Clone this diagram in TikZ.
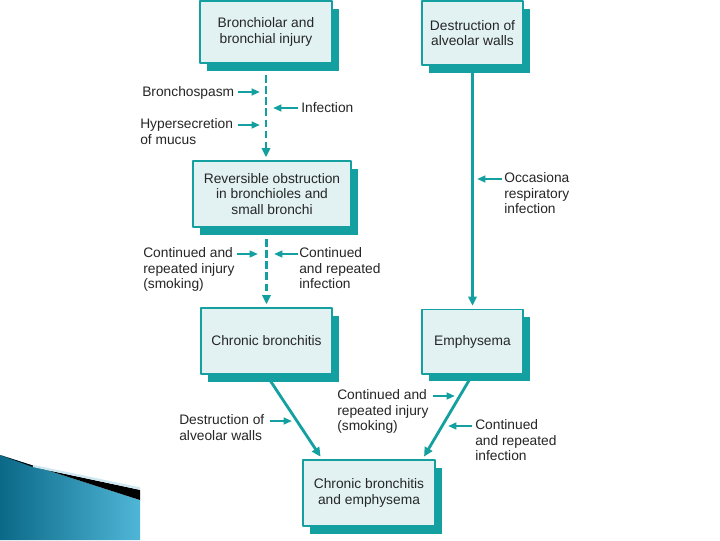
\documentclass[tikz,border=0pt]{standalone}
\usepackage{fontspec}
\setmainfont{Liberation Sans}
\usepackage{tikz}
\usetikzlibrary{arrows.meta,shadows,calc}

\definecolor{copdteal}{RGB}{20,160,160}
\definecolor{copdfill}{RGB}{226,242,242}
\definecolor{slidedark}{RGB}{10,105,135}
\definecolor{slidelight}{RGB}{80,182,215}
\definecolor{slidepale}{RGB}{205,232,240}
\newcommand{\copdfont}{\fontsize{9.8}{11}\selectfont}

\tikzset{
  stage/.style={draw=copdteal,line width=1.4pt,fill=copdfill,align=center,
    inner sep=0pt,font=\copdfont,text=black!85,
    general shadow={fill=copdteal,shadow xshift=5pt,shadow yshift=-5.5pt}},
  note/.style={anchor=north west,inner sep=0pt,align=left,font=\copdfont,
    text=black!85,execute at begin node=\strut},
  flow/.style={draw=copdteal,line width=2pt,-{Triangle[length=6.5pt,width=6pt]},shorten >=2pt},
  feed/.style={draw=copdteal,line width=1.5pt,-{Triangle[length=6pt,width=4.8pt]}}
}

\begin{document}
\begin{tikzpicture}[x=0.025cm,y=-0.025cm,join=round]% COPD flow, 6 stages
        \useasboundingbox (0,0) rectangle (720,540);
        \fill[white] (0,0) rectangle (720,540);
        % slide corner
        \shade[left color=slidedark,right color=slidelight](0,455)--(140,500)--(140,540)--(0,540)--cycle;
        \fill[black](33,467)--(140,490)--(140,500)--(0,455)--cycle;
        \draw[slidepale,line width=1.6pt](33,466)--(140,488.5);
        % stages
        \node[stage,minimum width=3.3cm,minimum height=1.55cm] (injury) at (266,32) {Bronchiolar and\\bronchial injury};
        \node[stage,minimum width=2.525cm,minimum height=1.6cm] (destr) at (472.5,33) {Destruction of\\alveolar walls};
        \node[stage,minimum width=3.95cm,minimum height=1.65cm] (revers) at (272,194) {Reversible obstruction\\in bronchioles and\\small bronchi};
        \node[stage,minimum width=3.275cm,minimum height=1.65cm] (chronic) at (266.5,341) {Chronic bronchitis};
        \node[stage,minimum width=2.525cm,minimum height=1.6cm] (emph) at (472.5,341.5) {Emphysema};
        \node[stage,minimum width=3.3cm,minimum height=1.65cm] (both) at (369,493) {Chronic bronchitis\\and emphysema};
        % main connectors
        \draw[flow,dash pattern=on 5.3pt off 2.6pt] (injury.south)--(injury.south |- revers.north);
        \draw[flow,dash pattern=on 5.3pt off 2.6pt] (chronic.north |- revers.south)--(chronic.north);
        \draw[flow] (destr.south)--(emph.north);
        \draw[flow] (chronic.south)--($(both.north west)!0.15!(both.north east)$);
        \draw[flow] (emph.south)--($(both.north west)!0.9!(both.north east)$);
        % side factors
        \path
                (142,85.6) node[note] (bsp) {Bronchospasm}
                (301,101.6) node[note] (inf) {Infection}
                (140,118.6) node[note] (hyp) {Hypersecretion\\of mucus}
                (504,172.6) node[note] (occ) {Occasiona\\respiratory\\infection}
                (143,247.6) node[note] (smk) {Continued and\\repeated injury\\(smoking)}
                (299,247.6) node[note] (rinf) {Continued\\and repeated\\infection}
                (179,414.6) node[note] (walls) {Destruction of\\alveolar walls}
                (337,389.6) node[note] (smk2) {Continued and\\repeated injury\\(smoking)}
                (475,419.6) node[note] (rinf2) {Continued\\and repeated\\infection};
        \coordinate (tbsp) at (260,92);
        \coordinate (tinf) at (273,108);
        \coordinate (thyp) at (260,125);
        \coordinate (tocc) at (477,179);
        \coordinate (tsmk) at (258,254);
        \coordinate (trinf) at (274,254);
        \coordinate (twalls) at (292,421);
        \coordinate (tsmk2) at (455,396);
        \coordinate (trinf2) at (448,426);
        \draw[feed] (tbsp) ++(-22,0)--(tbsp);
        \draw[feed] (tinf) ++(25,0)--(tinf);
        \draw[feed] (thyp) ++(-22,0)--(thyp);
        \draw[feed] (tocc) ++(25,0)--(tocc);
        \draw[feed] (tsmk) ++(-21,0)--(tsmk);
        \draw[feed] (trinf) ++(24,0)--(trinf);
        \draw[feed] (twalls) ++(-22,0)--(twalls);
        \draw[feed] (tsmk2) ++(-22,0)--(tsmk2);
        \draw[feed] (trinf2) ++(24,0)--(trinf2);
\end{tikzpicture}
\end{document}
